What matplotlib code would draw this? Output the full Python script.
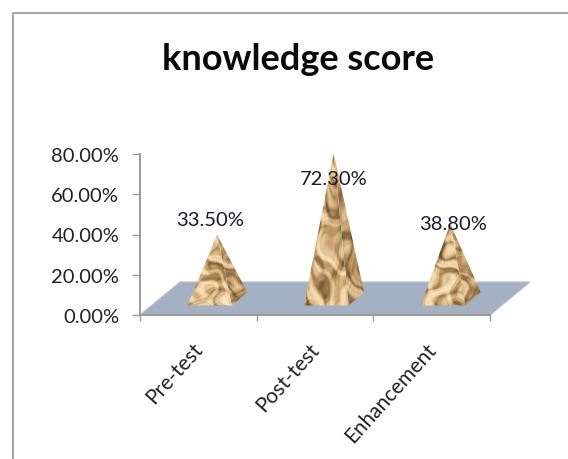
import numpy as np
import matplotlib
matplotlib.use("Agg")
import matplotlib.pyplot as plt
from matplotlib.patches import Polygon
from matplotlib.colors import LinearSegmentedColormap

categories = ["Pre-test", "Post-test", "Enhancement"]
values = [33.5, 72.3, 38.8]
value_labels = ["33.50%", "72.30%", "38.80%"]
y_ticks = [0, 20, 40, 60, 80]
y_tick_labels = ["0.00%", "20.00%", "40.00%", "60.00%", "80.00%"]

W, H = 568, 460
plt.rcParams["font.family"] = ["Lato", "Open Sans", "DejaVu Sans"]
fig = plt.figure(figsize=(W / 100, H / 100), dpi=100, facecolor="white")

# chart frame: left and top edges only reach the picture's borders
fig.add_artist(plt.Line2D([13 / W, 13 / W, 1],
                          [0, 1 - 13.5 / H, 1 - 13.5 / H],
                          color="#a6a6a6", lw=1.4))
fig.text(298 / W, 1 - 60 / H, "knowledge score", ha="center", va="center",
         fontsize=26, fontweight="bold", color="#0a0a0a")

ax = fig.add_axes([140 / W, 1 - 316 / H, 350 / W, 161 / H])
ax.set_xlim(0, 3)
ax.set_ylim(0, 80)
ax.patch.set_alpha(0)
for s in ("top", "right"):
    ax.spines[s].set_visible(False)
for s in ("left", "bottom"):
    ax.spines[s].set_color("#9a9a9a")
    ax.spines[s].set_linewidth(1.4)

ax.set_yticks(y_ticks, y_tick_labels, fontsize=14.5, color="#222222")
ax.set_xticks([0, 1, 2, 3])
ax.set_xticklabels([])
ax.tick_params(axis="y", length=6, width=1, color="#9a9a9a", pad=9)
ax.tick_params(axis="x", length=4.5, width=1, color="#9a9a9a")

# depth of the 3-D floor, in data units
DX, DY = 0.343, 16.4
ax.add_patch(Polygon([(0, 0), (3, 0), (3 + DX, DY), (DX, DY)], closed=True,
                     facecolor="#a3b1c2", edgecolor="#b5bfca", lw=0.8,
                     clip_on=False, zorder=1))

cmap = LinearSegmentedColormap.from_list(
    "rock", [(0, "#5f4527"), (0.25, "#8f6f47"), (0.45, "#bd9866"),
             (0.62, "#dcbc8c"), (0.8, "#f3d6a9"), (1, "#fae4c2")])
yy, xx = np.mgrid[0:1:320j, 0:1:200j]


def rock(phase, darken):
    # crumpled-paper look: folded, warped ridges rather than a regular weave
    u = xx * 9 + phase
    v = yy * 17
    wu = u + 1.3 * np.sin(v * 0.7 + phase) + 0.7 * np.sin(u * 1.9 - v * 0.5)
    wv = v + 1.5 * np.sin(u * 0.9 + 1.1) + 0.8 * np.cos(v * 1.3 + u * 0.6)
    t = (np.abs(np.sin(wu * 0.9 + wv * 0.55))
         + 0.9 * np.abs(np.sin(wu * 0.4 - wv * 0.75 + 0.9))
         + 0.55 * np.abs(np.sin(wu * 1.9 + wv * 1.3 + phase))
         + 0.3 * np.abs(np.sin(wu * 3.1 - wv * 2.3)))
    t = (t - t.min()) / (t.max() - t.min())
    return np.clip(t ** 1.15 * darken, 0, 1)


BASE_F, BASE_B = 4.7, 11.4
for i, v in enumerate(values):
    c = i + 0.66
    apex = (c, BASE_F + v * 1.05)
    fl, fr, br = (c - 0.255, BASE_F), (c + 0.13, BASE_F), (c + 0.26, BASE_B)
    faces = [([fl, fr, apex], 1.0), ([fr, br, apex], 0.8)]
    for k, (pts, dk) in enumerate(faces):
        poly = Polygon(pts, closed=True, transform=ax.transData,
                       facecolor="none", edgecolor="none")
        ax.add_patch(poly)
        im = ax.imshow(rock(i * 3.1 + k * 1.4, dk), cmap=cmap, vmin=0, vmax=1,
                       extent=(c - 0.3, c + 0.3, 0, apex[1] + 1),
                       aspect="auto", origin="lower", zorder=2,
                       interpolation="bilinear")
        im.set_clip_path(poly)
ax.set_xlim(0, 3)
ax.set_ylim(0, 80)

label_shift = [14.2, -4.3, 6.9]
label_x = [0.60, 1.66, 2.68]
for x, v, lab, d in zip(label_x, values, value_labels, label_shift):
    ax.text(x, v + d, lab, ha="center", va="center", fontsize=14.5,
            color="#1a1a2a", zorder=5, clip_on=False)

# rotated category labels, right end just under each tick interval
for i, lab in enumerate(categories):
    ax.annotate(lab, xy=(i + 0.5, 0), xytext=(-4.5, -17),
                textcoords="offset points", rotation=48, rotation_mode="anchor",
                ha="right", va="top", fontsize=15, color="#222222")

fig.savefig("out.png", dpi=100)
